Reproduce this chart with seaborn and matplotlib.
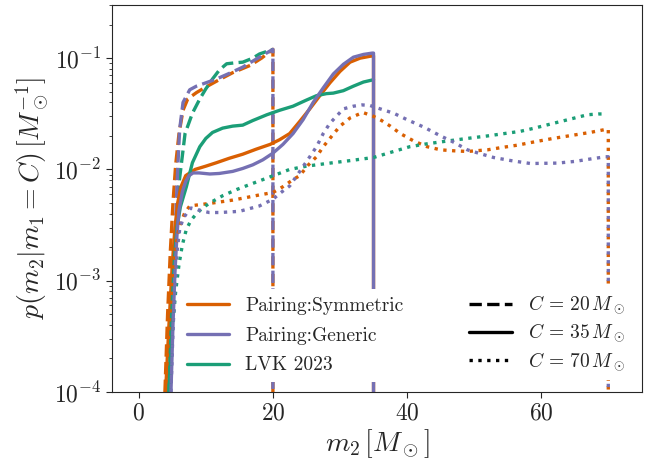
import numpy as np
import matplotlib
matplotlib.use("Agg")
import matplotlib.pyplot as plt
import seaborn as sns
from matplotlib.lines import Line2D

# colours per model
models = ["Pairing:Symmetric", "Pairing:Generic", "LVK 2023"]
colors = ["#d95f02", "#7570b3", "#1b9e77"]
c_values = [20, 35, 70]
c_styles = ["--", "-", ":"]

# --- C = 20 (dashed) ---
sym20_x = [3.9, 4.3, 4.7, 5.1, 5.5, 6.0, 6.6, 7.3, 8.6, 10, 12, 14, 16.6, 18.3, 20, 20]
sym20_y = [1e-4, 5e-4, 1.8e-3, 5e-3, 1.1e-2, 2.1e-2, 3.4e-2, 4.3e-2, 4.9e-2, 5.5e-2,
           6.4e-2, 7.4e-2, 8.6e-2, 1.0e-1, 1.2e-1, 1e-6]
gen20_x = [4.6, 4.9, 5.2, 5.5, 5.8, 6.1, 6.6, 7.6, 8.6, 10, 11.6, 13.5, 15.5, 17.5, 20, 20]
gen20_y = [1e-4, 4e-4, 1.3e-3, 3.5e-3, 1.0e-2, 2.3e-2, 4.0e-2, 5.2e-2, 5.6e-2, 6.0e-2,
           6.5e-2, 7.3e-2, 8.3e-2, 9.8e-2, 1.2e-1, 1e-6]
lvk20_x = [4.4, 4.8, 5.2, 5.6, 6.0, 6.9, 8.0, 9.1, 10, 11, 12, 13.1, 14.5, 15.5, 17, 18, 20]
lvk20_y = [1e-4, 5e-4, 1.6e-3, 3.8e-3, 7.5e-3, 2.1e-2, 3.2e-2, 4.3e-2, 5.3e-2, 6.5e-2,
           7.8e-2, 8.9e-2, 9.1e-2, 9.2e-2, 1.0e-1, 1.09e-1, 1.2e-1]

# --- C = 35 (solid) ---
sym35_x = [4.0, 4.5, 5.0, 5.4, 5.8, 6.3, 7.0, 8.4, 10, 11.6, 13.5, 15.5, 17.5, 19.6, 21,
           22.5, 24, 25.5, 27, 28.5, 30, 31.5, 33, 34.5, 35, 35]
sym35_y = [1e-4, 4e-4, 1.4e-3, 3e-3, 5e-3, 7e-3, 8.8e-3, 1.0e-2, 1.07e-2, 1.15e-2, 1.26e-2,
           1.37e-2, 1.52e-2, 1.68e-2, 1.85e-2, 2.1e-2, 2.7e-2, 3.5e-2, 4.6e-2, 6.0e-2,
           7.6e-2, 9.2e-2, 1.0e-1, 1.04e-1, 1.05e-1, 1e-6]
gen35_x = [4.8, 5.1, 5.4, 5.7, 6.0, 6.5, 7.0, 7.5, 8.1, 9, 10.6, 12, 14, 15.5, 17, 18.5, 20,
           21.5, 23, 24.5, 26, 27.5, 29, 30.5, 32, 33.5, 34.8, 35, 35]
gen35_y = [1e-4, 4e-4, 1.2e-3, 2.6e-3, 4.3e-3, 6.3e-3, 7.8e-3, 8.8e-3, 9.3e-3, 9.3e-3,
           9.1e-3, 9.2e-3, 9.6e-3, 1.02e-2, 1.1e-2, 1.22e-2, 1.4e-2, 1.68e-2, 2.1e-2,
           2.8e-2, 4.0e-2, 5.4e-2, 7.2e-2, 8.8e-2, 1.02e-1, 1.08e-1, 1.11e-1, 1.11e-1, 1e-6]
lvk35_x = [4.5, 4.9, 5.3, 5.7, 6.2, 7.1, 8, 9.1, 10, 11, 12.5, 14, 15.5, 17, 19.1, 21, 23,
           25, 26.5, 28, 29, 30.5, 32, 33.5, 35]
lvk35_y = [1e-4, 5e-4, 1.5e-3, 3e-3, 4.6e-3, 7e-3, 1.15e-2, 1.6e-2, 1.9e-2, 2.15e-2, 2.35e-2,
           2.45e-2, 2.5e-2, 2.75e-2, 3.1e-2, 3.4e-2, 3.7e-2, 4.2e-2, 4.6e-2, 4.8e-2,
           4.85e-2, 5.1e-2, 5.6e-2, 6.1e-2, 6.4e-2]

# --- C = 70 (dotted) ---
sym70_x = [4.0, 4.5, 5.0, 5.5, 6.0, 6.8, 7.6, 10, 12.1, 14, 16.1, 18, 20, 21.5, 23, 24,
           25.3, 26.5, 27.5, 28.8, 30, 31.5, 33.4, 35, 36.2, 37.5, 39, 41, 43, 45, 47, 49,
           52, 54, 56.4, 59, 61.8, 64.5, 67.3, 69.8, 70, 70]
sym70_y = [1e-4, 3.5e-4, 1e-3, 2e-3, 3e-3, 4e-3, 4.7e-3, 4.9e-3, 5.1e-3, 5.3e-3, 5.6e-3,
           5.9e-3, 6.2e-3, 7e-3, 8.1e-3, 8.8e-3, 1.1e-2, 1.3e-2, 1.6e-2, 2.0e-2, 2.45e-2,
           2.9e-2, 3.25e-2, 3.0e-2, 2.75e-2, 2.45e-2, 2.1e-2, 1.8e-2, 1.6e-2, 1.5e-2,
           1.47e-2, 1.45e-2, 1.5e-2, 1.57e-2, 1.65e-2, 1.77e-2, 1.9e-2, 2.02e-2, 2.15e-2,
           2.3e-2, 2.3e-2, 1e-6]
gen70_x = [4.8, 5.1, 5.4, 5.7, 6.1, 6.6, 7.1, 7.8, 9, 10.5, 12.1, 15, 18, 20, 21.2, 22.5,
           24, 25.5, 26.5, 27.5, 28.5, 30.5, 32, 33.3, 34.5, 36, 38, 40, 42.5, 45, 47, 49,
           51, 52.9, 55.5, 58.4, 62.4, 65, 66.9, 69.6, 70, 70]
gen70_y = [1e-4, 3.5e-4, 9e-4, 1.8e-3, 2.9e-3, 3.6e-3, 4.0e-3, 4.5e-3, 4.3e-3, 4.1e-3,
           4.1e-3, 4.2e-3, 4.7e-3, 5.4e-3, 6.2e-3, 7.1e-3, 9.6e-3, 1.3e-2, 1.6e-2, 2.1e-2,
           2.6e-2, 3.5e-2, 3.7e-2, 3.8e-2, 3.75e-2, 3.5e-2, 3.2e-2, 2.8e-2, 2.4e-2, 2.0e-2,
           1.75e-2, 1.5e-2, 1.38e-2, 1.28e-2, 1.2e-2, 1.13e-2, 1.14e-2, 1.18e-2, 1.23e-2,
           1.3e-2, 1.3e-2, 1e-6]
lvk70_x = [4.5, 5.0, 5.5, 6.0, 6.5, 7.1, 7.8, 8.6, 9.5, 10.6, 12.5, 14.6, 16.5, 18.5, 20.5,
           22.5, 25, 28, 31.5, 35, 37.5, 40.4, 43, 46, 49, 52, 54.5, 56.9, 59, 61.3, 64,
           66.9, 68.5, 69.8]
lvk70_y = [1e-4, 3.5e-4, 8e-4, 1.4e-3, 2.1e-3, 2.9e-3, 3.5e-3, 4e-3, 4.5e-3, 5e-3, 5.8e-3,
           6.6e-3, 7.3e-3, 8.1e-3, 9e-3, 1.0e-2, 1.07e-2, 1.13e-2, 1.2e-2, 1.28e-2, 1.42e-2,
           1.6e-2, 1.7e-2, 1.8e-2, 1.9e-2, 2.0e-2, 2.1e-2, 2.2e-2, 2.35e-2, 2.55e-2, 2.8e-2,
           3.1e-2, 3.15e-2, 3.15e-2]

curves = {
    (0, 0): (sym20_x, sym20_y), (1, 0): (gen20_x, gen20_y), (2, 0): (lvk20_x, lvk20_y),
    (0, 1): (sym35_x, sym35_y), (1, 1): (gen35_x, gen35_y), (2, 1): (lvk35_x, lvk35_y),
    (0, 2): (sym70_x, sym70_y), (1, 2): (gen70_x, gen70_y), (2, 2): (lvk70_x, lvk70_y),
}

sns.set_style("ticks")
plt.rcParams["font.family"] = ["cmr10", "DejaVu Serif"]
plt.rcParams["mathtext.fontset"] = "cm"
plt.rcParams["axes.unicode_minus"] = False
plt.rcParams["axes.formatter.use_mathtext"] = True

fig = plt.figure(figsize=(6.47, 4.59), dpi=100)
ax = fig.add_axes([0.173, 0.146, 0.819, 0.843])

# draw order: orange, green, purple on top
for ci in range(3):
    for mi in [0, 2, 1]:
        xs, ys = curves[(mi, ci)]
        sns.lineplot(x=xs, y=ys, ax=ax, color=colors[mi], linestyle=c_styles[ci],
                     linewidth=2.4, estimator=None, sort=False)

ax.set_yscale("log")
ax.set_xlim(-4, 75)
ax.set_ylim(1e-4, 0.3)
ax.set_xticks([0, 20, 40, 60])
ax.tick_params(axis="both", which="major", labelsize=17, direction="out", length=4)
ax.tick_params(axis="y", which="minor", direction="out", length=2)
ax.set_xlabel(r"$m_2\,[M_\odot]$", fontsize=20, labelpad=2)
ax.set_ylabel(r"$p(m_2|m_1 = C)\,[M_\odot^{-1}]$", fontsize=20, labelpad=2)

# legends sit on white boxes (no edge) that hide the lines behind them
leg_kw = dict(frameon=True, facecolor="white", edgecolor="none", framealpha=1,
              fancybox=False, fontsize=14, handlelength=2.2)
model_handles = [Line2D([], [], color=c, lw=2.4) for c in colors]
leg1 = ax.legend(model_handles, models, loc="lower left", bbox_to_anchor=(0.108, 0.0),
                 labelspacing=0.6, **leg_kw)
ax.add_artist(leg1)
c_handles = [Line2D([], [], color="black", lw=2.4, linestyle=s) for s in c_styles]
c_labels = [r"$C\,=\,%d\,M_\odot$" % c for c in c_values]
ax.legend(c_handles, c_labels, loc="lower right", bbox_to_anchor=(1.0, 0.005),
          labelspacing=0.3, **leg_kw)

fig.savefig("out.png", dpi=100)
